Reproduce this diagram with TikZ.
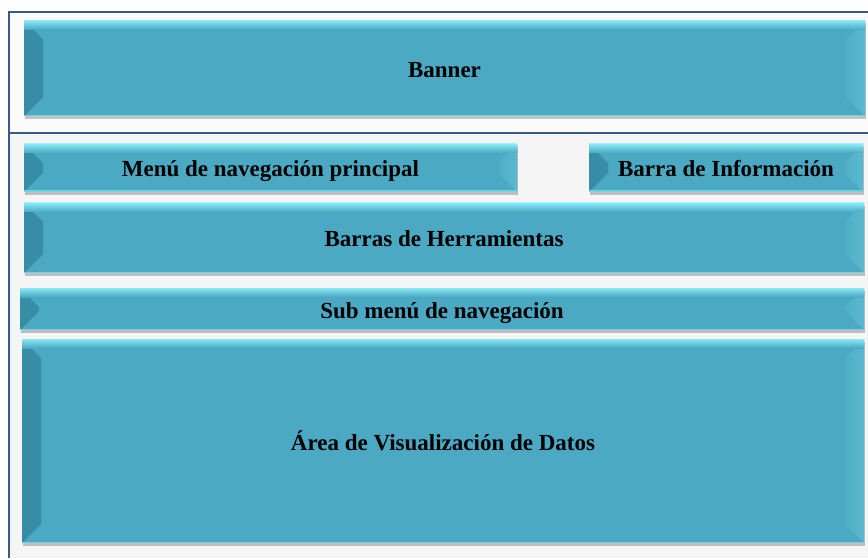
\documentclass[tikz,border=0pt]{standalone}
\usepackage{fontspec}
\setmainfont{Liberation Serif}
\usetikzlibrary{shadows,calc}
\definecolor{boxbase}{HTML}{4BA9C3}
\definecolor{bevlA}{HTML}{388DA6}
\definecolor{bevlB}{HTML}{4298B2}
\definecolor{bevrA}{HTML}{50AEC6}
\definecolor{bevrB}{HTML}{5AB9CF}
\definecolor{hilite}{HTML}{8CEDF8}
\definecolor{framecol}{HTML}{3A5A8C}
\definecolor{bgcol}{HTML}{F5F5F5}
\tikzset{
  bevelbox/.style={
    rectangle, draw=none, fill=boxbase, inner sep=0pt,
    font=\fontsize{23}{27}\selectfont\bfseries,
    text height=18pt, text depth=0pt,
    drop shadow={shadow xshift=1pt, shadow yshift=-3pt, fill=black, opacity=0.22},
    path picture={
      \fill[left color=bevlA, right color=bevlB]
        let \p1=(path picture bounding box.south west),
            \p2=(path picture bounding box.north east) in
        (\x1,\y2) -- (\x1+19pt,\y2-19pt) -- (\x1+19pt,\y1+19pt) -- (\x1,\y1) -- cycle;
      \fill[left color=bevrA, right color=bevrB]
        let \p1=(path picture bounding box.south west),
            \p2=(path picture bounding box.north east) in
        (\x2,\y2) -- (\x2-19pt,\y2-19pt) -- (\x2-19pt,\y1+19pt) -- (\x2,\y1) -- cycle;
      \shade[top color=hilite, bottom color=boxbase, opacity=0.95]
        let \p1=(path picture bounding box.south west),
            \p2=(path picture bounding box.north east) in
        (\x1,\y2) rectangle (\x2,\y2-9pt);
      \fill[color=hilite!60!boxbase]
        let \p1=(path picture bounding box.south west),
            \p2=(path picture bounding box.north east) in
        (\x1,\y1) rectangle (\x2,\y1+1.5pt);
    }
  },
  frameline/.style={draw=framecol, line width=2pt}
}
\begin{document}
\begin{tikzpicture}[x=1pt,y=1pt]
  \useasboundingbox (0,0) rectangle (868,558);
  \fill[white] (0,0) rectangle (868,558);
  \fill[bgcol] (9,0) rectangle (868,546);
  \fill[white!97!gray] (9,425) rectangle (868,546);
  % frame
  \coordinate (fl) at (9,0);
  \coordinate (ftl) at (9,546);
  \coordinate (ftr) at (868,546);
  \coordinate (fml) at (9,425);
  \coordinate (fmr) at (868,425);
  \draw[frameline] (fl) -- (ftl) -- (ftr);
  \draw[frameline] (fml) -- (fmr);
  % boxes
  \node[bevelbox, minimum width=841pt, minimum height=96pt] (banner) at (444.5,489.5) {Banner};
  \node[bevelbox, minimum width=493pt, minimum height=48pt] (menu) at (270.5,390) {Menú de navegación principal};
  \node[bevelbox, minimum width=274pt, minimum height=48pt] (info) at (726,390) {Barra de Información};
  \node[bevelbox, minimum width=840pt, minimum height=70pt] (herr) at (444,320) {Barras de Herramientas};
  \node[bevelbox, minimum width=844pt, minimum height=42pt] (sub) at (442,249) {Sub menú de navegación};
  \node[bevelbox, minimum width=842pt, minimum height=204pt] (area) at (443,117) {Área de Visualización de Datos};
\end{tikzpicture}
\end{document}
